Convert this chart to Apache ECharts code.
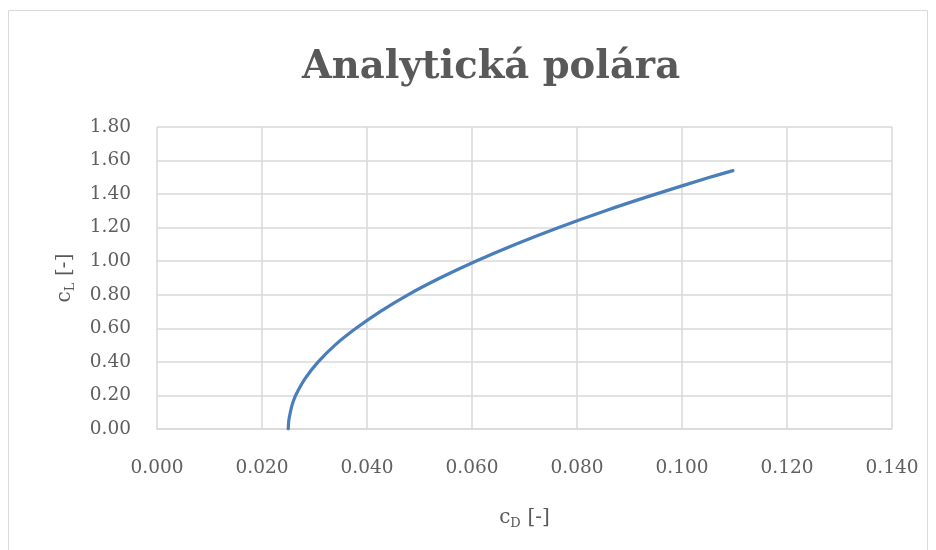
<!DOCTYPE html>
<html>
<head>
<meta charset="utf-8">
<script src="https://cdn.jsdelivr.net/npm/echarts@6/dist/echarts.min.js"></script>
<style>html,body{margin:0;padding:0;background:#fff}#c{width:936px;height:550px}</style>
</head>
<body>
<div id="c"></div>
<script>
const titleText = 'Analytická polára';
const xTicks = ['0.000','0.020','0.040','0.060','0.080','0.100','0.120','0.140'];
const yTicks = ['0.00','0.20','0.40','0.60','0.80','1.00','1.20','1.40','1.60','1.80'];
// values
const cL = [0.00, 0.05, 0.10, 0.15, 0.20, 0.30, 0.40, 0.50, 0.60, 0.70, 0.80, 0.90, 1.00, 1.10, 1.20, 1.30, 1.40, 1.50, 1.54];
const cD = [0.0250, 0.0251, 0.0254, 0.0258, 0.0264, 0.0282, 0.0307, 0.0339, 0.0379, 0.0425, 0.0478, 0.0539, 0.0607, 0.0682, 0.0764, 0.0853, 0.0950, 0.1053, 0.1097];

const FONT = 'DejaVu Serif';
const GREY = '#595959';
const chart = echarts.init(document.getElementById('c'), null, {renderer: 'canvas'});
chart.setOption({
  backgroundColor: '#fff',
  animation: false,
  graphic: [{type: 'rect', shape: {x: 8.5, y: 10.5, width: 919, height: 560}, style: {fill: 'none', stroke: '#d9d9d9', lineWidth: 1}, z: -1}],
  title: {text: titleText, left: 297, top: 43, textStyle: {fontFamily: FONT, fontWeight: 'bold', fontSize: 38.5, color: GREY}},
  grid: {left: 157, right: 44, top: 127, bottom: 121},
  xAxis: {
    type: 'value', min: 0, max: 0.14, interval: 0.02,
    axisLine: {show: true, lineStyle: {color: '#d9d9d9', width: 1.5}},
    axisTick: {show: false},
    splitLine: {show: true, lineStyle: {color: '#d9d9d9', width: 1.5}},
    axisLabel: {margin: 30, fontFamily: FONT, fontSize: 18.5, color: '#606060', formatter: (v, i) => xTicks[i]},
    name: '{a|c}{b|D}  {a|[-]}', nameLocation: 'middle', nameGap: 76,
    nameTextStyle: {rich: {a: {fontFamily: FONT, fontSize: 20, color: GREY}, b: {fontFamily: FONT, fontSize: 13, color: GREY, padding: [12, 0, 0, 0]}}}
  },
  yAxis: {
    type: 'value', min: 0, max: 1.8, interval: 0.2,
    axisLine: {show: false},
    axisTick: {show: false},
    splitLine: {show: true, lineStyle: {color: '#d9d9d9', width: 1.5}},
    axisLabel: {margin: 26, fontFamily: FONT, fontSize: 18.5, color: '#606060', formatter: (v, i) => yTicks[i]},
    name: '{a|c}{b|L}  {a|[-]}', nameLocation: 'middle', nameGap: 80, nameRotate: 90,
    nameTextStyle: {rich: {a: {fontFamily: FONT, fontSize: 20, color: GREY}, b: {fontFamily: FONT, fontSize: 13, color: GREY, padding: [12, 0, 0, 0]}}}
  },
  series: [{
    type: 'line', smooth: 0.3, showSymbol: false,
    data: cD.map((d, i) => [d, cL[i]]),
    lineStyle: {color: '#4a7ebb', width: 3.2, cap: 'round'}
  }]
});
</script>
</body>
</html>
